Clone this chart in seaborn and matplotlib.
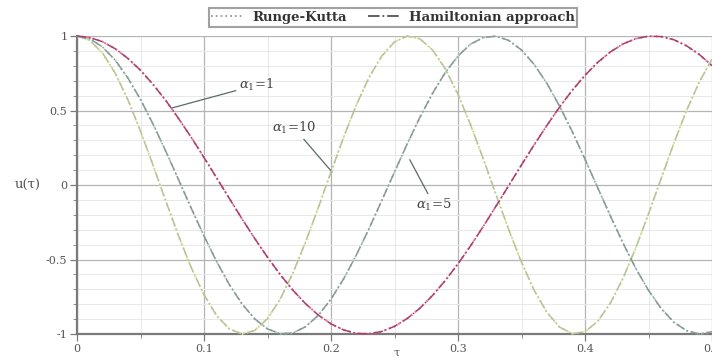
import numpy as np
import pandas as pd
import matplotlib
matplotlib.use("Agg")
import matplotlib.pyplot as plt
from matplotlib.lines import Line2D
from matplotlib.ticker import MultipleLocator, FixedLocator
import seaborn as sns

# Time grid (tau) and sampled displacement u(tau) for each alpha_1
tau = [round(0.01 * i, 2) for i in range(51)]

u_alpha1 = [1.000, 0.990, 0.962, 0.915, 0.850, 0.770, 0.674, 0.566, 0.446, 0.319,
            0.185, 0.047, -0.091, -0.228, -0.360, -0.485, -0.601, -0.706, -0.797, -0.873,
            -0.932, -0.973, -0.996, -0.999, -0.983, -0.949, -0.896, -0.827, -0.741, -0.641,
            -0.529, -0.407, -0.277, -0.141, -0.003, 0.135, 0.270, 0.400, 0.523, 0.636,
            0.736, 0.823, 0.893, 0.947, 0.982, 0.999, 0.996, 0.975, 0.934, 0.876, 0.801]

u_alpha5 = [1.000, 0.982, 0.927, 0.839, 0.719, 0.574, 0.407, 0.225, 0.035, -0.157,
            -0.342, -0.515, -0.669, -0.799, -0.899, -0.966, -0.998, -0.993, -0.951, -0.875,
            -0.766, -0.629, -0.469, -0.292, -0.104, 0.087, 0.276, 0.454, 0.616, 0.755,
            0.866, 0.946, 0.990, 0.999, 0.970, 0.906, 0.809, 0.682, 0.529, 0.358,
            0.173, -0.018, -0.208, -0.391, -0.560, -0.707, -0.829, -0.921, -0.978, -1.000, -0.985]

u_alpha10 = [1.000, 0.971, 0.887, 0.752, 0.574, 0.362, 0.130, -0.109, -0.342, -0.556,
             -0.737, -0.877, -0.966, -1.000, -0.976, -0.897, -0.766, -0.591, -0.382, -0.152,
             0.087, 0.322, 0.538, 0.723, 0.866, 0.960, 0.999, 0.981, 0.906, 0.780,
             0.608, 0.402, 0.173, -0.066, -0.301, -0.519, -0.707, -0.855, -0.954, -0.998,
             -0.985, -0.915, -0.793, -0.625, -0.422, -0.194, 0.044, 0.281, 0.501, 0.692, 0.844]

series_names = ["Runge-Kutta", "Hamiltonian approach"]
x_ticks = [0, 0.1, 0.2, 0.3, 0.4, 0.5]
x_tick_labels = ["0", "0.1", "0.2", "0.3", "0.4", "0.5"]
y_ticks = [-1, -0.5, 0, 0.5, 1]
y_tick_labels = ["-1", "-0.5", "0", "0.5", "1"]

sns.set_theme(style="white")
plt.rcParams["font.family"] = ["DejaVu Serif", "Liberation Serif"]
plt.rcParams["mathtext.fontset"] = "dejavuserif"
plt.rcParams["axes.unicode_minus"] = False

fig = plt.figure(figsize=(7.12, 3.6), dpi=100)
ax = fig.add_axes([77 / 712, 26 / 360, 635 / 712, 298 / 360])

df = pd.DataFrame({"tau": tau, "a1": u_alpha1, "a5": u_alpha5, "a10": u_alpha10})

# (column, Runge-Kutta colour, Hamiltonian colour)
curves = [
    ("a10", "#dfe38a", "#b4c49c"),
    ("a5", "#9fcfb2", "#8c9898"),
    ("a1", "#ec6fa2", "#a8406e"),
]
for col, rk_color, ham_color in curves:
    sns.lineplot(data=df, x="tau", y=col, ax=ax, color=rk_color, linestyle=":",
                 linewidth=1.4, legend=False, clip_on=False, zorder=3)
    sns.lineplot(data=df, x="tau", y=col, ax=ax, color=ham_color, linestyle="-.",
                 linewidth=1.1, legend=False, clip_on=False, zorder=4)

ax.set_xlim(0, 0.5)
ax.set_ylim(-1, 1)

ax.xaxis.set_major_locator(FixedLocator(x_ticks))
ax.set_xticklabels(x_tick_labels)
ax.yaxis.set_major_locator(FixedLocator(y_ticks))
ax.set_yticklabels(y_tick_labels)
ax.xaxis.set_minor_locator(MultipleLocator(0.05))
ax.yaxis.set_minor_locator(MultipleLocator(0.1))

ax.grid(which="major", color="#b4b4b4", linewidth=0.9)
ax.grid(which="minor", color="#e8e8e8", linewidth=0.7)
ax.set_axisbelow(True)

for side in ["top", "right"]:
    ax.spines[side].set_visible(False)
for side in ["left", "bottom"]:
    ax.spines[side].set_color("#7a7a7a")
    ax.spines[side].set_linewidth(1.6)

ax.tick_params(which="major", direction="out", length=5, width=0.9, color="#7a7a7a",
               labelsize=8, labelcolor="#555555", pad=2, left=True, bottom=True)
ax.tick_params(which="minor", direction="out", length=3, width=0.7, color="#8a8a8a",
               left=True, bottom=True)

ax.set_xlabel("τ", fontsize=8, color="#555555")
ax.xaxis.set_label_coords((397 - 77) / 635, -(353 - 334) / 298)
ax.xaxis.label.set_va("center")
ax.set_ylabel("u(τ)", fontsize=9.5, color="#555555", rotation=0, va="center", ha="center")
ax.yaxis.set_label_coords(-(77 - 28) / 635, 0.5)

# Curve labels with leader lines
ann_kw = dict(fontsize=9.5, color="#444444",
              arrowprops=dict(arrowstyle="-", color="#5a6a6a", lw=0.9, shrinkA=0, shrinkB=0))
ax.annotate(r"$\alpha_1$=1", xy=(0.0748, 0.517), xytext=(0.1276, 0.671),
            va="center", ha="left", **ann_kw)
ax.annotate(r"$\alpha_1$=10", xy=(0.2008, 0.087), xytext=(0.1535, 0.383),
            va="center", ha="left", **ann_kw)
ax.annotate(r"$\alpha_1$=5", xy=(0.262, 0.17), xytext=(0.267, -0.134),
            va="center", ha="left", **ann_kw)

handles = [Line2D([], [], color="#9a9a9a", linestyle=":", linewidth=1.3),
           Line2D([], [], color="#555555", linestyle="-.", linewidth=1.3)]
leg = fig.legend(handles, series_names, loc="center", bbox_to_anchor=(393 / 712, 1 - 17.5 / 360),
                 ncol=2, frameon=True, fancybox=False, fontsize=9.5, handlelength=2.4,
                 columnspacing=1.6, handletextpad=0.7, borderpad=0.2, borderaxespad=0)
leg.get_frame().set_edgecolor("#8a8a8a")
leg.get_frame().set_linewidth(1.5)
for t in leg.get_texts():
    t.set_color("#333333")
    t.set_fontweight("bold")

fig.savefig("out.png", dpi=100)
